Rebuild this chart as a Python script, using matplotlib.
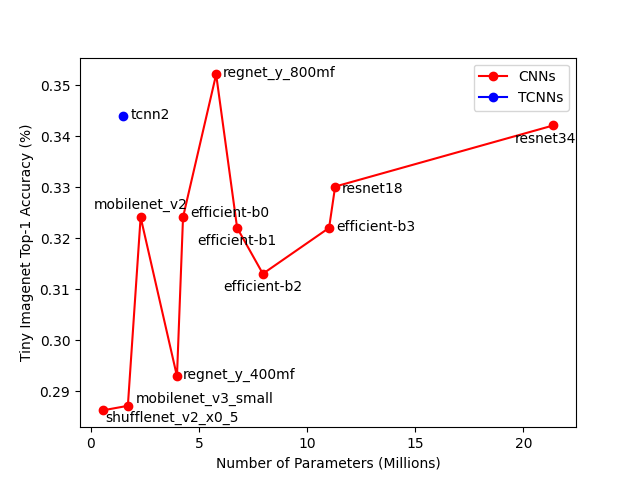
import matplotlib
matplotlib.use("Agg")
import matplotlib.pyplot as plt

# CNN models, sorted by parameter count
cnn_names = ["shufflenet_v2_x0_5", "mobilenet_v3_small", "mobilenet_v2",
             "regnet_y_400mf", "efficient-b0", "regnet_y_800mf",
             "efficient-b1", "efficient-b2", "efficient-b3",
             "resnet18", "resnet34"]
cnn_params = [0.55, 1.72, 2.31, 3.99, 4.27, 5.80, 6.77, 7.96, 11.02, 11.30, 21.39]
cnn_acc = [0.2862, 0.2871, 0.3241, 0.2929, 0.3241, 0.3521,
           0.3220, 0.3130, 0.3220, 0.3301, 0.3421]

tcnn_names = ["tcnn2"]
tcnn_params = [1.50]
tcnn_acc = [0.3440]

# label placement: (dx, dy) in pixels, horizontal alignment
label_pos = {
    "shufflenet_v2_x0_5": (3, -11, "left"),
    "mobilenet_v3_small": (7.5, 2.7, "left"),
    "mobilenet_v2": (0, 8, "center"),
    "regnet_y_400mf": (6, -2.3, "left"),
    "efficient-b0": (7, 0.5, "left"),
    "regnet_y_800mf": (6.5, -2.7, "left"),
    "efficient-b1": (0, -17, "center"),
    "efficient-b2": (0, -17, "center"),
    "efficient-b3": (7, -3.4, "left"),
    "resnet18": (6.5, -6.7, "left"),
    "resnet34": (-8, -17.7, "center"),
    "tcnn2": (7.5, -3.7, "left"),
}

fig, ax = plt.subplots(figsize=(6.4, 4.8), dpi=100)
ax.plot(cnn_params, cnn_acc, "ro-", label="CNNs")
ax.plot(tcnn_params, tcnn_acc, "bo-", label="TCNNs")

for names, xs, ys in [(cnn_names, cnn_params, cnn_acc),
                      (tcnn_names, tcnn_params, tcnn_acc)]:
    for n, x, y in zip(names, xs, ys):
        dx, dy, ha = label_pos[n]
        ax.annotate(n, (x, y), xytext=(dx, dy), textcoords="offset pixels",
                    ha=ha, va="baseline")

ax.set_xlabel("Number of Parameters (Millions)")
ax.set_ylabel("Tiny Imagenet Top-1 Accuracy (%)")
ax.legend(loc="upper right")

fig.savefig("out.png")
